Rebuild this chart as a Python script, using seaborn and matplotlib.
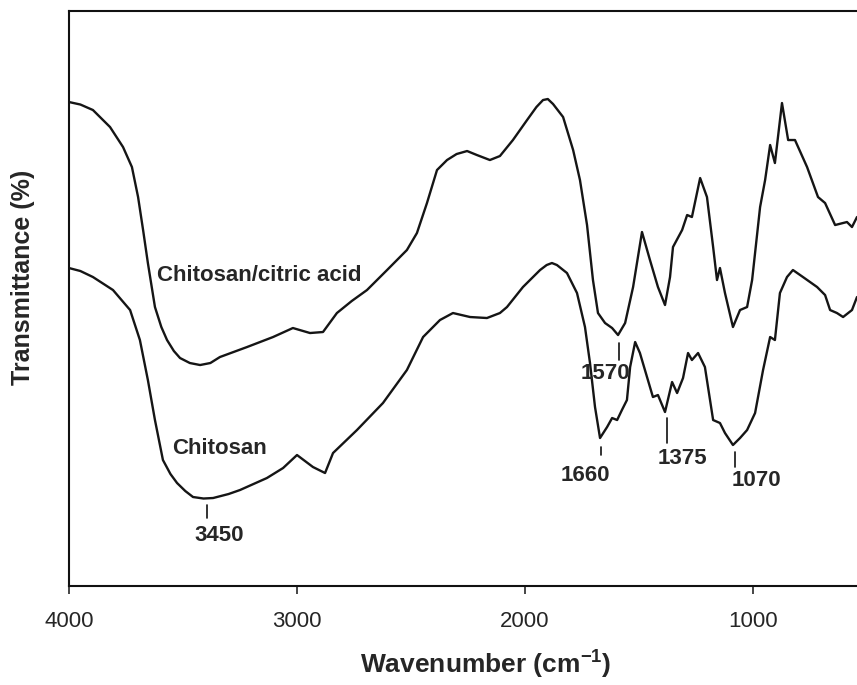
import matplotlib
matplotlib.use("Agg")
import matplotlib.pyplot as plt
import pandas as pd
import seaborn as sns

# FTIR spectra (wavenumber in cm-1, transmittance in arbitrary units)
wn_blend = [4000, 3950, 3895, 3820, 3763, 3724, 3697, 3675, 3654, 3623, 3595, 3570,
            3540, 3513, 3470, 3425, 3380, 3338, 3219, 3105, 3018, 2943, 2886, 2825,
            2760, 2693, 2605, 2518, 2474, 2430, 2386, 2342, 2300, 2254, 2211, 2154,
            2110, 2053, 1991, 1950, 1921, 1900, 1877, 1833, 1789, 1759, 1728, 1702,
            1680, 1649, 1618, 1592, 1561, 1526, 1487, 1452, 1417, 1386, 1364, 1351,
            1311, 1289, 1268, 1232, 1202, 1175, 1158, 1145, 1123, 1088, 1057, 1026,
            1004, 969, 947, 925, 904, 873, 846, 816, 763, 715, 684, 640, 588, 566, 544]
t_blend = [96.8, 96.3, 95.2, 91.8, 87.8, 83.8, 77.8, 71.2, 64.6, 55.8, 51.8, 49.2,
           47.0, 45.6, 44.6, 44.2, 44.6, 45.8, 47.8, 49.8, 51.6, 50.6, 50.8, 54.6,
           57.0, 59.2, 63.2, 67.2, 70.6, 76.6, 83.2, 85.2, 86.4, 87.0, 86.2, 85.2,
           86.0, 89.2, 93.2, 95.8, 97.2, 97.4, 96.4, 93.8, 87.2, 81.2, 72.2, 61.2,
           54.6, 52.6, 51.6, 50.2, 52.6, 59.8, 70.8, 65.2, 59.8, 56.2, 61.8, 67.8,
           71.2, 74.2, 73.8, 81.6, 77.8, 67.8, 61.2, 63.6, 58.6, 51.8, 55.2, 55.8,
           61.2, 75.8, 81.2, 88.2, 84.6, 96.6, 89.2, 89.2, 83.8, 77.8, 76.6, 72.2,
           72.8, 71.8, 73.8]

wn_chitosan = [4000, 3950, 3895, 3807, 3732, 3689, 3654, 3623, 3588, 3555, 3526,
               3490, 3456, 3410, 3368, 3300, 3250, 3132, 3061, 3000, 2930, 2877, 2842,
               2737, 2623, 2518, 2447, 2373, 2316, 2241, 2167, 2110, 2079, 2009, 1934,
               1905, 1882, 1860, 1816, 1772, 1737, 1715, 1693, 1671, 1640, 1618, 1596,
               1575, 1553, 1539, 1517, 1496, 1474, 1439, 1417, 1386, 1355, 1333, 1307,
               1285, 1268, 1241, 1211, 1175, 1145, 1123, 1088, 1057, 1026, 991, 956,
               925, 904, 882, 851, 825, 781, 719, 684, 662, 632, 605, 566, 544]
t_chitosan = [63.6, 63.0, 61.8, 59.2, 55.2, 49.2, 41.2, 33.2, 25.2, 22.4, 20.6,
              19.0, 17.8, 17.5, 17.6, 18.4, 19.2, 21.6, 23.6, 26.2, 23.8, 22.6, 26.6,
              31.2, 36.6, 43.2, 49.8, 53.2, 54.6, 53.8, 53.6, 54.6, 55.8, 59.8, 63.2,
              64.2, 64.6, 64.2, 62.6, 58.6, 51.8, 44.6, 35.8, 29.6, 31.8, 33.6, 33.2,
              35.2, 37.2, 43.8, 48.8, 46.6, 43.2, 37.8, 38.2, 34.8, 40.8, 38.6, 41.6,
              46.6, 45.2, 46.6, 43.8, 33.2, 32.6, 30.6, 28.2, 29.6, 31.2, 34.6, 43.2,
              49.8, 49.2, 58.6, 61.8, 63.2, 61.8, 59.8, 58.2, 55.2, 54.6, 53.8, 55.2, 57.8]

# peak marks: label text, tick position, tick y range, label position
peak_labels = ["3450", "1660", "1570", "1375", "1070"]
peak_tick_x = [3395, 1667, 1588, 1377, 1080]
peak_tick_top = [16.2, 27.8, 48.6, 33.6, 26.8]
peak_tick_bottom = [13.6, 26.2, 45.2, 28.6, 23.8]
peak_text_x = [3342, 1737, 1649, 1311, 983]
peak_text_y = [10.2, 22.2, 42.6, 25.6, 21.2]

sns.set_style("ticks")
plt.rcParams['font.family'] = ['Liberation Sans', 'DejaVu Sans']
plt.rcParams['mathtext.fontset'] = 'custom'
plt.rcParams['mathtext.rm'] = 'Liberation Sans'
plt.rcParams['mathtext.bf'] = 'Liberation Sans:bold'

df = pd.concat([
    pd.DataFrame({'wn': wn_blend, 't': t_blend, 'sample': 'Chitosan/citric acid'}),
    pd.DataFrame({'wn': wn_chitosan, 't': t_chitosan, 'sample': 'Chitosan'}),
])

fig = plt.figure(figsize=(8.57, 6.85), dpi=100)
ax = fig.add_axes([0.0805, 0.1445, 0.9195, 0.8394])
sns.lineplot(data=df, x='wn', y='t', units='sample', estimator=None, sort=False,
             color='#151515', linewidth=1.7, solid_joinstyle='round', ax=ax)

ax.set_xlim(4000, 544)
ax.set_ylim(0, 115)
ax.set_xticks([4000, 3000, 2000, 1000])
ax.set_yticks([])
ax.tick_params(axis='x', direction='out', length=6, width=1.2, labelsize=16, pad=12)
for side in ['left', 'bottom', 'top']:
    ax.spines[side].set_linewidth(1.5)
    ax.spines[side].set_color('#111111')
ax.spines['right'].set_visible(False)

ax.set_xlabel(r'Wavenumber (cm$^{\mathbf{-1}}$)', fontsize=19, fontweight='bold')
ax.set_ylabel('Transmittance (%)', fontsize=18, fontweight='bold')
ax.xaxis.set_label_coords(0.529, -0.107)
ax.yaxis.set_label_coords(-0.043, 0.537)

ax.text(3614, 62.2, 'Chitosan/citric acid', fontsize=16, fontweight='bold',
        ha='left', va='center')
ax.text(3548, 27.6, 'Chitosan', fontsize=16, fontweight='bold', ha='left', va='center')

for lab, tx, top, bot, lx, ly in zip(peak_labels, peak_tick_x, peak_tick_top,
                                     peak_tick_bottom, peak_text_x, peak_text_y):
    ax.plot([tx, tx], [bot, top], color='#111111', linewidth=1.2)
    ax.text(lx, ly, lab, fontsize=16, fontweight='bold', ha='center', va='center')

plt.savefig('out.png', dpi=100)
